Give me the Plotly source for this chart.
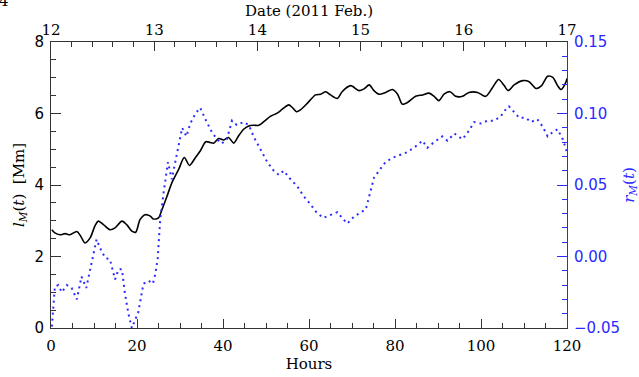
import plotly.graph_objects as go

# Black solid curve l_M(t) [Mm] (left axis)
hours_l = [0.2, 0.9, 2.1, 3.3, 4.4, 6.0, 6.9, 7.9, 9.1, 10.2, 11.0, 12.2, 13.7, 14.9, 16.5, 17.6,
           18.8, 19.7, 20.7, 21.9, 23.1, 23.8, 25.0, 25.8, 27.0, 28.1, 29.7, 31.0, 32.2, 33.6,
           34.7, 36.0, 37.0, 37.8, 39.0, 40.2, 41.3, 42.5, 43.6, 44.8, 46.0, 47.1, 48.3, 49.5,
           51.0, 52.6, 53.8, 55.3, 56.1, 57.1, 58.0, 59.8, 61.5, 62.7, 63.9, 65.0, 66.6, 67.7,
           69.7, 71.6, 72.8, 74.0, 75.1, 76.3, 77.8, 79.4, 80.6, 81.7, 82.9, 84.8, 86.4, 87.9,
           89.1, 90.2, 91.4, 92.8, 94.1, 95.7, 97.2, 99.2, 101.1, 102.7, 104.1, 105.4, 106.3,
           107.7, 109.7, 111.2, 112.8, 114.1, 115.5, 116.7, 117.8, 118.6, 119.8, 120.0]
l_M = [2.75, 2.66, 2.61, 2.64, 2.61, 2.70, 2.57, 2.38, 2.52, 2.85, 2.99, 2.89, 2.75, 2.80, 2.99, 2.89,
       2.71, 2.68, 3.03, 3.17, 3.13, 3.05, 3.08, 3.31, 3.69, 4.06, 4.44, 4.77, 4.55, 4.77,
       4.95, 5.21, 5.19, 5.17, 5.30, 5.26, 5.33, 5.17, 5.37, 5.56, 5.65, 5.67, 5.67, 5.77,
       5.92, 6.01, 6.12, 6.24, 6.17, 6.05, 6.10, 6.31, 6.52, 6.54, 6.61, 6.52, 6.42, 6.61,
       6.78, 6.64, 6.69, 6.80, 6.64, 6.54, 6.59, 6.67, 6.54, 6.26, 6.31, 6.48, 6.52, 6.57,
       6.48, 6.36, 6.54, 6.61, 6.48, 6.48, 6.59, 6.59, 6.48, 6.73, 6.95, 6.78, 6.64,
       6.80, 6.92, 6.89, 6.70, 6.78, 7.04, 7.01, 6.78, 6.67, 6.89, 6.98]

# Blue dotted curve r_M(t) (right axis)
hours_r = [0.2, 0.5, 0.9, 1.7, 2.5, 3.7, 4.8, 6.0, 7.1, 8.2, 9.1, 9.9, 10.6, 11.4, 12.6, 13.7,
           14.9, 15.7, 16.5, 17.2, 18.0, 18.8, 19.6, 20.3, 21.5, 22.7, 23.7, 24.2, 24.8, 25.4,
           26.2, 27.2, 28.1, 29.3, 30.5, 31.5, 32.4, 33.6, 34.7, 35.9, 37.4, 38.6, 39.7, 40.9,
           42.1, 43.2, 44.8, 46.0, 47.1, 48.7, 50.3, 51.8, 53.0, 54.1, 55.7, 57.3, 58.8, 60.2,
           61.7, 63.3, 65.0, 66.6, 67.7, 68.9, 70.5, 72.0, 73.2, 74.0, 75.1, 76.3, 77.8, 79.4,
           81.3, 82.9, 84.8, 86.4, 87.5, 89.1, 91.0, 92.2, 93.8, 95.7, 97.2, 98.4, 100.0, 101.5,
           103.1, 104.6, 105.5, 106.5, 107.7, 108.9, 110.4, 111.6, 113.1, 114.3, 115.5, 116.7,
           117.8, 119.0, 119.8, 120.0]
r_M = [-0.049, -0.035, -0.021, -0.020, -0.025, -0.020, -0.022, -0.030, -0.014, -0.022, -0.009,
       0.002, 0.012, 0.006, -0.001, -0.002, -0.016, -0.009, -0.009, -0.026, -0.040, -0.050,
       -0.044, -0.039, -0.019, -0.017, -0.019, -0.013, -0.002, 0.026, 0.045, 0.066, 0.054,
       0.071, 0.090, 0.084, 0.093, 0.100, 0.104, 0.096, 0.087, 0.082, 0.079, 0.082, 0.095,
       0.092, 0.094, 0.092, 0.084, 0.075, 0.066, 0.060, 0.057, 0.060, 0.054, 0.049, 0.042,
       0.037, 0.031, 0.027, 0.029, 0.031, 0.027, 0.023, 0.028, 0.031, 0.033, 0.042, 0.055,
       0.060, 0.066, 0.069, 0.071, 0.073, 0.077, 0.081, 0.076, 0.080, 0.084, 0.081, 0.086,
       0.082, 0.088, 0.094, 0.093, 0.095, 0.095, 0.098, 0.102, 0.105, 0.101, 0.097, 0.097,
       0.094, 0.096, 0.091, 0.084, 0.087, 0.089, 0.082, 0.075, 0.071]

# Top axis (dates, Feb 2011)
date_tick_hours = [0, 24, 48, 72, 96, 120]
date_tick_labels = ["12", "13", "14", "15", "16", "17"]
date_minor_hours = [4.8 * i for i in range(26)]

BLUE = "#2a2aff"
SERIF = "DejaVu Serif, serif"
SANS = "DejaVu Sans, sans-serif"
AX = "#333333"

fig = go.Figure()
fig.add_trace(go.Scatter(x=hours_l, y=l_M, mode="lines",
                         line=dict(color="black", width=1.6, shape="spline", smoothing=0.8),
                         xaxis="x", yaxis="y", showlegend=False, hoverinfo="skip"))
fig.add_trace(go.Scatter(x=hours_r, y=r_M, mode="lines",
                         line=dict(color=BLUE, width=2, dash="2px,4px"),
                         xaxis="x", yaxis="y2", showlegend=False, hoverinfo="skip"))
fig.add_trace(go.Scatter(x=[0, 120], y=[None, None], mode="lines", xaxis="x2", yaxis="y",
                         showlegend=False, hoverinfo="skip"))

fig.update_layout(
    width=639, height=377,
    margin=dict(l=51, r=72, t=42, b=49, autoexpand=False),
    paper_bgcolor="white", plot_bgcolor="white",
    xaxis=dict(range=[0, 120], dtick=20, tick0=0, ticks="inside", ticklen=9, tickwidth=1, tickcolor=AX,
               minor=dict(ticks="inside", dtick=5, ticklen=5, tickcolor=AX),
               showline=True, linecolor=AX, linewidth=1, showgrid=False, zeroline=False,
               ticklabelstandoff=4, automargin=False,
               tickfont=dict(family=SERIF, size=15, color="black"),
               title=dict(text="Hours", font=dict(family=SERIF, size=15, color="black"), standoff=2)),
    xaxis2=dict(range=[0, 120], overlaying="x", side="top", anchor="y",
                tickmode="array", tickvals=date_tick_hours, ticktext=date_tick_labels,
                ticks="inside", ticklen=9, tickcolor=AX, automargin=False,
                minor=dict(ticks="inside", tickvals=date_minor_hours, ticklen=5, tickcolor=AX),
                showline=True, linecolor=AX, linewidth=1, showgrid=False, zeroline=False,
                tickfont=dict(family=SERIF, size=15, color="black"),
                title=dict(text="Date (2011 Feb.)", font=dict(family=SERIF, size=15, color="black"), standoff=0)),
    yaxis=dict(range=[0, 8], dtick=2, tick0=0, ticks="inside", ticklen=10, tickcolor=AX,
               minor=dict(ticks="inside", dtick=0.5, ticklen=5, tickcolor=AX),
               showline=True, linecolor=AX, linewidth=1, showgrid=False, zeroline=False,
               ticklabelstandoff=3, automargin=False,
               tickfont=dict(family=SANS, size=15, color="black"),
               title=dict(text="<i>l</i><sub><i>M</i></sub>(<i>t</i>)  [Mm]",
                          font=dict(family=SERIF, size=15, color="black"), standoff=6)),
    yaxis2=dict(range=[-0.05, 0.15], dtick=0.05, tick0=-0.05, overlaying="y", side="right", anchor="x",
                ticks="inside", ticklen=10, tickcolor=BLUE, tickformat=".2f",
                minor=dict(ticks="inside", dtick=0.01, ticklen=5, tickcolor=BLUE),
                showline=True, linecolor=BLUE, linewidth=1, showgrid=False, zeroline=False,
                ticklabelstandoff=3, automargin=False,
                tickfont=dict(family=SANS, size=15, color=BLUE),
                title=dict(text="<i>r</i><sub><i>M</i></sub>(<i>t</i>)",
                           font=dict(family=SERIF, size=15, color=BLUE), standoff=8)),
    annotations=[dict(text="4", xref="paper", yref="paper", x=0, y=1, xanchor="center", yanchor="middle",
                      xshift=-47, yshift=41, showarrow=False, font=dict(family=SERIF, size=15, color="black"))],
)

fig.write_html("out.html")
